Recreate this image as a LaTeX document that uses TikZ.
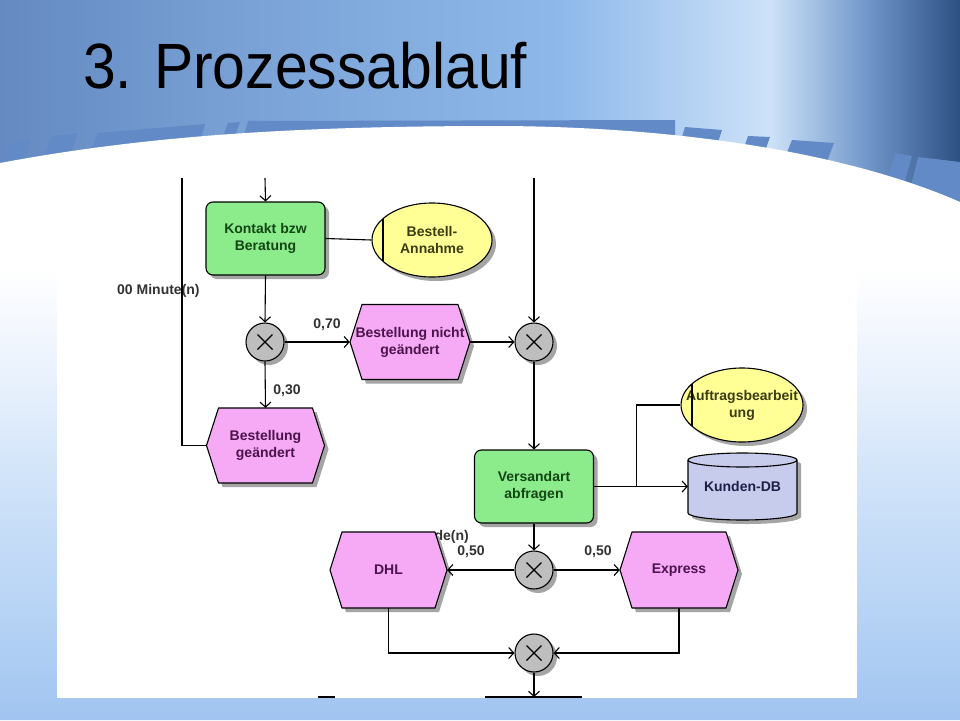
\documentclass[tikz,border=0pt]{standalone}
\usepackage{fontspec}
\setmainfont{Liberation Sans}
\usetikzlibrary{arrows.meta,shapes.geometric,shadows,calc}
\definecolor{bgA}{RGB}{100,138,193}
\definecolor{bgB}{RGB}{122,162,214}
\definecolor{bgC}{RGB}{142,184,234}
\definecolor{bgD}{RGB}{205,226,248}
\definecolor{bgE}{RGB}{110,148,200}
\definecolor{bgF}{RGB}{45,80,130}
\definecolor{bandc}{RGB}{98,138,198}
\definecolor{slA}{RGB}{160,196,240}
\definecolor{slB}{RGB}{178,208,244}
\definecolor{slC}{RGB}{208,227,249}
\definecolor{slD}{RGB}{236,243,253}
\definecolor{fngreen}{RGB}{140,236,140}
\definecolor{fntc}{RGB}{20,70,20}
\definecolor{evpink}{RGB}{246,170,246}
\definecolor{evtc}{RGB}{75,20,75}
\definecolor{orgyellow}{RGB}{255,255,150}
\definecolor{orgtc}{RGB}{60,60,20}
\definecolor{dblav}{RGB}{200,204,236}
\definecolor{dbtc}{RGB}{30,30,70}
\definecolor{xorgray}{RGB}{190,190,190}
\definecolor{shadowgray}{RGB}{165,165,165}
\definecolor{labgray}{RGB}{50,50,50}
\pgfdeclareverticalshading{slideshade}{100bp}{color(0bp)=(slA); color(25bp)=(slA); color(32bp)=(slB); color(45bp)=(slC); color(55bp)=(slD); color(63bp)=(white); color(100bp)=(white)}
\newcommand\nodefont{\bfseries\fontsize{14}{17}\selectfont}
\newcommand\hexnode[6]{%
 \fill[shadowgray] ({#2-#4/2+4},{#3+4}) -- ({#2-#4/2+16},{#3-#5/2+4}) -- ({#2+#4/2-8},{#3-#5/2+4}) -- ({#2+#4/2+4},{#3+4}) -- ({#2+#4/2-8},{#3+#5/2+4}) -- ({#2-#4/2+16},{#3+#5/2+4}) -- cycle;
 \draw[base, fill=evpink] ({#2-#4/2},{#3}) -- ({#2-#4/2+12},{#3-#5/2}) -- ({#2+#4/2-12},{#3-#5/2}) -- ({#2+#4/2},{#3}) -- ({#2+#4/2-12},{#3+#5/2}) -- ({#2-#4/2+12},{#3+#5/2}) -- cycle;
 \node[evlabel, minimum width=#4, minimum height=#5] (#1) at (#2,#3) {#6};
}
\tikzset{
 base/.style={draw=black, line width=1.1pt, line join=round},
 shad/.style={drop shadow={shadow xshift=4pt, shadow yshift=-4pt, fill=shadowgray, opacity=1}},
 fn/.style={base, shad, rounded corners=7pt, fill=fngreen, minimum width=119, minimum height=73, align=center, font=\nodefont, text=fntc},
 evlabel/.style={draw=none, inner sep=0pt, align=center, font=\nodefont, text=evtc},
 org/.style={base, shad, ellipse, fill=orgyellow, inner sep=0pt},
 orgtext/.style={inner sep=0pt, align=center, font=\nodefont, text=orgtc},
 xor/.style={base, shad, circle, fill=xorgray, minimum size=38, inner sep=0pt,
   path picture={\draw[line width=1.1pt] ($(path picture bounding box.center)+(-7.5,-7.5)$) -- ($(path picture bounding box.center)+(7.5,7.5)$) ($(path picture bounding box.center)+(-7.5,7.5)$) -- ($(path picture bounding box.center)+(7.5,-7.5)$);}},
 conn/.style={line width=1.1pt},
 arr/.style={conn, -{Straight Barb[length=5pt,width=11pt]}},
 lab/.style={inner sep=0pt, font=\bfseries\fontsize{14}{16}\selectfont, text=labgray},
 bar/.style={fill=bandc}
}
\begin{document}
\begin{tikzpicture}[x=1pt,y=-1pt]
\useasboundingbox (0,0) rectangle (960,720);
% background
\shade[left color=bgA, right color=bgB] (0,0) rectangle (251,260);
\shade[left color=bgB, right color=bgC] (250,0) rectangle (561,260);
\shade[left color=bgC, right color=bgD] (560,0) rectangle (771,260);
\shade[left color=bgD, right color=bgE] (770,0) rectangle (871,260);
\shade[left color=bgE, right color=bgF] (870,0) rectangle (960,260);
% stripes
\fill[bar] (0,172) -- (12,142) -- (30,140) -- (18,172) -- cycle;
\fill[bar] (38,170) -- (52,136) -- (78,133) -- (64,170) -- cycle;
\fill[bar] (84,165) -- (98,133) -- (205,124) -- (195,160) -- cycle;
\fill[bar] (218,150) -- (228,123) -- (240,122) -- (230,150) -- cycle;
\fill[bar] (240,150) -- (248,121) -- (675,120) -- (675,150) -- cycle;
\fill[bar] (675,160) -- (685,127) -- (722,130) -- (712,160) -- cycle;
\fill[bar] (738,165) -- (748,136) -- (770,137) -- (760,165) -- cycle;
\fill[bar] (780,170) -- (792,140) -- (834,143) -- (822,175) -- cycle;
\fill[bar] (880,205) -- (895,153) -- (912,156) -- (898,205) -- cycle;
\fill[bar] (905,210) -- (918,157) -- (960,162) -- (960,215) -- cycle;
% slide area
\shade[shading=slideshade] (0,163) .. controls (150,135) and (300,126) .. (500,126) .. controls (700,127) and (860,158) .. (960,202) -- (960,720) -- (0,720) -- cycle;
\fill[white] (57,178) rectangle (857,698);
% title
\node[anchor=base west, inner sep=0pt, font=\fontsize{64}{76}\selectfont] (title) at (83,88) {\scalebox{0.92}[1]{3. Prozessablauf}};
% free ends
\coordinate (t0) at (182,178);
\coordinate (t1) at (265,178);
\coordinate (t2) at (534,178);
\coordinate (b1) at (534,697);
\coordinate (bl1) at (485,697);
\coordinate (bl2) at (582,697);
\coordinate (bl3) at (318,697);
\coordinate (bl4) at (335,697);
% labels behind
\node[lab, anchor=west] (lmin) at (117,291) {00 Minute(n)};
\node[lab, anchor=east] (lstd) at (469,537) {de(n)};
% nodes
\node[fn] (kontakt) at (265.5,238.5) {Kontakt bzw\\Beratung};
\node[org, minimum width=120, minimum height=74] (bestell) at (432,240) {};
\node[orgtext] (bestellT) at (bestell.center) {Bestell-\\Annahme};
\node[xor] (x1) at (265,342) {};
\hexnode{bnicht}{410}{342}{120}{75}{Bestellung nicht\\geändert}
\hexnode{bgeaendert}{265.5}{445.5}{118}{75}{Bestellung\\geändert}
\node[xor] (x2) at (534,342) {};
\node[fn] (vers) at (534,486.5) {Versandart\\abfragen};
\node[org, minimum width=122, minimum height=74] (auftrag) at (742,405) {};
\node[orgtext] (auftragT) at (auftrag.center) {Auftragsbearbeit\\ung};
% cylinder
\fill[shadowgray] (692,464) -- (692,517) arc[start angle=180,end angle=0,x radius=54.5,y radius=7] -- (801,464) arc[start angle=0,end angle=-180,x radius=54.5,y radius=7] -- cycle;
\draw[base, fill=dblav] (688,460) -- (688,513) arc[start angle=180,end angle=0,x radius=54.5,y radius=7] -- (797,460) arc[start angle=0,end angle=-180,x radius=54.5,y radius=7] -- cycle;
\draw[base] (688,460) arc[start angle=180,end angle=0,x radius=54.5,y radius=7];
\node[inner sep=0pt, minimum width=109, minimum height=67, font=\nodefont, text=dbtc] (kdb) at (742.5,486.5) {Kunden-DB};
\node[xor] (x3) at (534,570) {};
\hexnode{dhl}{388.5}{570}{117}{76}{DHL}
\hexnode{express}{679}{570}{118}{76}{Express}
\node[xor] (x4) at (534,653) {};
% ellipse inner lines
\draw[conn] ($(bestell.center)+(-49,-21)$) -- ($(bestell.center)+(-49,21)$);
\draw[conn] ($(auftrag.center)+(-50,-21)$) -- ($(auftrag.center)+(-50,21)$);
% connectors
\draw[arr] (t1) -- (kontakt.north);
\draw[conn] (kontakt.east) -- (bestell.west);
\draw[arr] (kontakt.south) -- (x1.north);
\draw[arr] (x1.east) -- (bnicht.west);
\draw[arr] (x1.south) -- (bgeaendert.north);
\draw[conn] (t0) |- (bgeaendert.west);
\draw[arr] (bnicht.east) -- (x2.west);
\draw[arr] (t2) -- (x2.north);
\draw[arr] (x2.south) -- (vers.north);
\draw[arr] (vers.east) -- (kdb.west);
\coordinate (br) at ($(vers.east)!0.45!(kdb.west)$);
\draw[conn] (br) |- (auftrag.west);
\draw[arr] (vers.south) -- (x3.north);
\draw[arr] (x3.west) -- (dhl.east);
\draw[arr] (x3.east) -- (express.west);
\draw[arr] (dhl.south) |- (x4.west);
\draw[arr] (express.south) |- (x4.east);
\draw[arr] (x4.south) -- (b1);
\draw[conn] (bl1) -- (bl2);
\draw[conn] (bl3) -- (bl4);
% labels
\node[lab] (l70) at (327,325) {0,70};
\node[lab] (l30) at (287,391) {0,30};
\node[lab] (l50a) at (471,552) {0,50};
\node[lab] (l50b) at (598,552) {0,50};
\end{tikzpicture}
\end{document}
